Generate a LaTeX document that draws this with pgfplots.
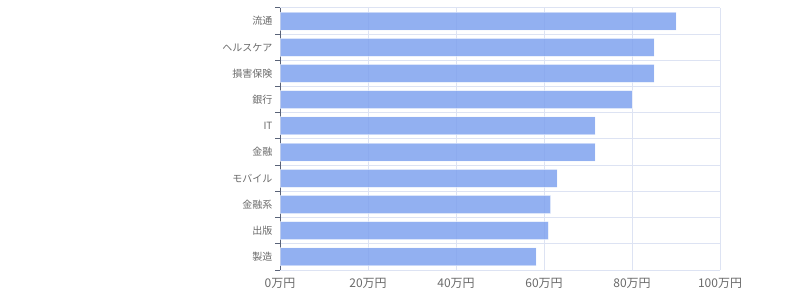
\documentclass[border=0pt]{standalone}
\usepackage{pgfplots}
\pgfplotsset{compat=1.18}
\usepackage{fontspec}
\setmainfont{Noto Sans CJK JP}
\definecolor{barc}{HTML}{7FA2EE}
\definecolor{gridc}{HTML}{DDE3F3}
\definecolor{txt}{HTML}{6A6A6A}
\definecolor{axc}{HTML}{5A6378}
\begin{document}
\begin{tikzpicture}[x=1bp,y=1bp]
\path (0,0) rectangle (800,300);
\begin{axis}[
  at={(280bp,30bp)}, anchor=south west,
  scale only axis, width=440bp, height=262bp,
  xbar, bar width=18bp,
  xmin=0, xmax=100, ymin=-0.5, ymax=9.5,
  xtick={0,20,40,60,80,100},
  xticklabel={\pgfmathprintnumber{\tick}万円},
  /pgf/number format/assume math mode=true,
  ytick={0,1,2,3,4,5,6,7,8,9},
  yticklabels={製造,出版,金融系,モバイル,金融,IT,銀行,損害保険,ヘルスケア,流通},
  minor ytick={-0.5,0.5,1.5,2.5,3.5,4.5,5.5,6.5,7.5,8.5,9.5},
  xmajorgrids, yminorgrids,
  major grid style={draw=gridc, line width=1bp},
  minor grid style={draw=gridc, line width=1bp},
  axis x line*=bottom, axis y line*=left,
  x axis line style={draw=gridc, line width=1bp, -},
  y axis line style={draw=axc, line width=1bp, -},
  major tick length=0pt, minor tick length=5bp, tick align=outside,
  minor y tick style={draw=axc, line width=1bp},
  yticklabel style={font=\fontsize{10bp}{12bp}\selectfont, text=txt, xshift=-4bp},
  xticklabel style={font=\fontsize{12bp}{14bp}\selectfont, text=txt, yshift=-5bp},
]
\addplot[fill=barc, fill opacity=0.85, draw=white, draw opacity=0.5, line width=1bp]
  coordinates {(58.2,0) (61,1) (61.5,2) (63,3) (71.6,4) (71.6,5) (80,6) (85,7) (85,8) (90,9)};
\end{axis}
\end{tikzpicture}
\end{document}
